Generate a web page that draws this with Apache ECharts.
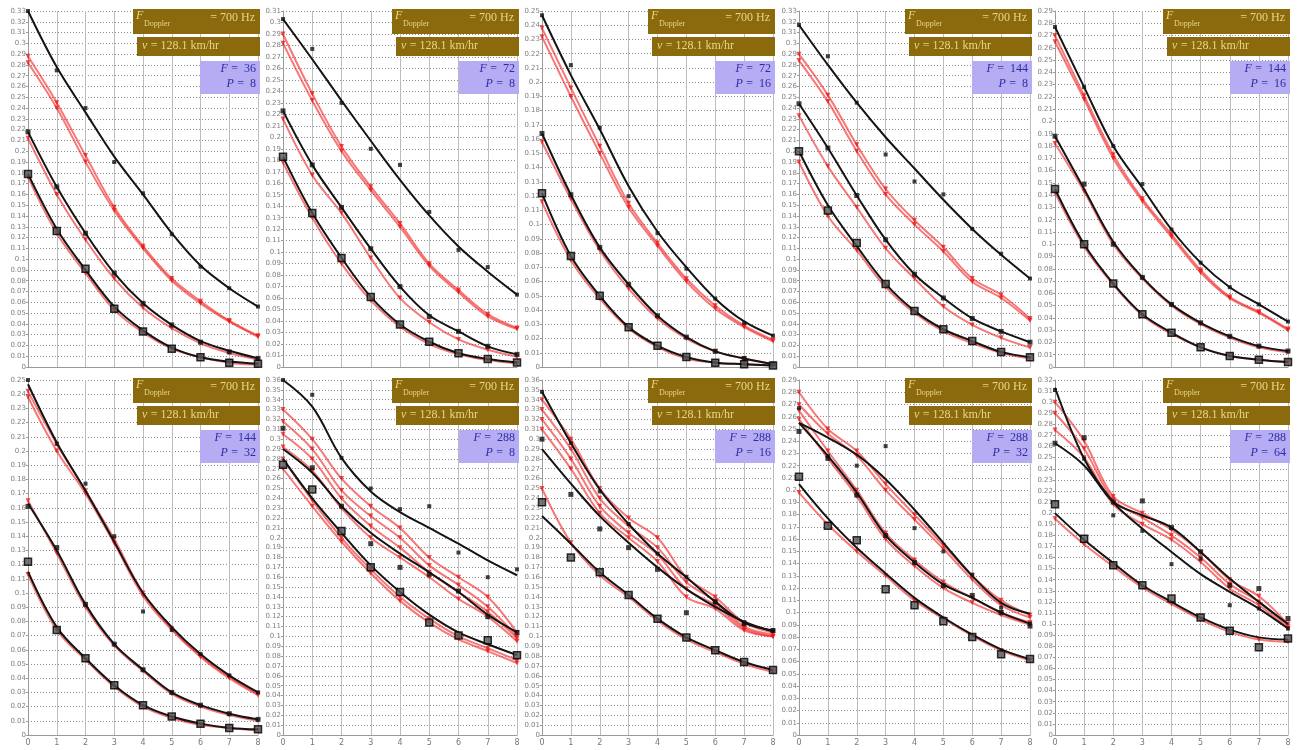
<!DOCTYPE html>
<html><head><meta charset="utf-8">
<script src="https://cdn.jsdelivr.net/npm/echarts@6/dist/echarts.min.js"></script>
<style>html,body{margin:0;padding:0;background:#fff}#c{width:1303px;height:750px}</style>
</head><body><div id="c"></div><script>
const xTicks = [0,1,2,3,4,5,6,7,8];
const fValues = [36,72,72,144,144,144,288,288,288,288];
const pValues = [8,8,16,8,16,32,8,16,32,64];
const yMaxes = [0.33,0.31,0.25,0.33,0.29,0.25,0.36,0.36,0.29,0.32];
const dopplerLabel = '= 700 Hz';
const speedLabel = '= 128.1 km/hr';

const fit1 = [[0.33,0.278,0.236,0.195,0.16,0.124,0.094,0.073,0.056],[0.218,0.167,0.124,0.087,0.059,0.039,0.024,0.015,0.008],[0.179,0.128,0.09,0.056,0.034,0.018,0.009,0.005,0.003]];
const pts1 = [[0.33,0.275,0.24,0.19,0.161,0.123,0.093,0.073,0.056],[0.218,0.167,0.124,0.087,0.059,0.039,0.023,0.014,0.008],[0.179,0.126,0.091,0.054,0.033,0.017,0.009,0.004,0.003]];
const red1 = [[0.288,0.245,0.196,0.148,0.112,0.082,0.061,0.043,0.029],[0.282,0.24,0.19,0.145,0.11,0.08,0.059,0.042,0.028],[0.212,0.16,0.118,0.082,0.055,0.036,0.022,0.013,0.007],[0.176,0.124,0.087,0.053,0.032,0.017,0.009,0.004,0.002]];

const fit2 = [[0.303,0.268,0.232,0.197,0.163,0.132,0.105,0.083,0.063],[0.223,0.176,0.139,0.103,0.07,0.045,0.031,0.018,0.011],[0.183,0.134,0.095,0.061,0.037,0.022,0.012,0.007,0.004]];
const pts2 = [[0.303,0.277,0.23,0.19,0.176,0.135,0.102,0.087,0.063],[0.223,0.176,0.139,0.103,0.07,0.044,0.031,0.018,0.011],[0.183,0.134,0.095,0.061,0.037,0.022,0.012,0.007,0.004]];
const red2 = [[0.29,0.238,0.192,0.157,0.125,0.09,0.067,0.046,0.034],[0.282,0.232,0.188,0.154,0.122,0.088,0.065,0.044,0.033],[0.216,0.167,0.134,0.095,0.06,0.039,0.024,0.015,0.009],[0.178,0.13,0.09,0.058,0.035,0.02,0.011,0.006,0.003]];

const fit3 = [[0.247,0.205,0.167,0.127,0.095,0.07,0.048,0.032,0.022],[0.164,0.121,0.084,0.058,0.036,0.021,0.011,0.006,0.002],[0.122,0.078,0.05,0.028,0.015,0.007,0.003,0.002,0.001]];
const pts3 = [[0.247,0.212,0.168,0.12,0.094,0.069,0.048,0.031,0.022],[0.164,0.121,0.084,0.058,0.036,0.021,0.011,0.006,0.002],[0.122,0.078,0.05,0.028,0.015,0.007,0.003,0.002,0.001]];
const red3 = [[0.238,0.196,0.155,0.115,0.087,0.062,0.043,0.029,0.019],[0.232,0.19,0.15,0.112,0.085,0.06,0.041,0.028,0.018],[0.158,0.118,0.082,0.055,0.034,0.02,0.011,0.006,0.002],[0.116,0.075,0.048,0.027,0.014,0.006,0.003,0.002,0.001]];

const fit4 = [[0.317,0.28,0.245,0.213,0.184,0.155,0.128,0.104,0.082],[0.244,0.203,0.159,0.118,0.086,0.064,0.045,0.033,0.023],[0.2,0.15,0.112,0.077,0.052,0.035,0.024,0.014,0.009]];
const pts4 = [[0.317,0.288,0.245,0.197,0.172,0.16,0.128,0.105,0.082],[0.244,0.203,0.159,0.118,0.086,0.064,0.045,0.033,0.023],[0.2,0.145,0.115,0.077,0.052,0.035,0.024,0.014,0.009]];
const red4 = [[0.29,0.252,0.206,0.165,0.136,0.111,0.082,0.067,0.045],[0.284,0.246,0.2,0.16,0.132,0.107,0.079,0.064,0.043],[0.233,0.186,0.148,0.11,0.082,0.056,0.039,0.027,0.018],[0.19,0.14,0.108,0.074,0.05,0.033,0.022,0.013,0.008]];

const fit5 = [[0.277,0.228,0.18,0.146,0.112,0.085,0.065,0.051,0.037],[0.188,0.145,0.102,0.073,0.051,0.036,0.025,0.017,0.013],[0.145,0.1,0.068,0.043,0.028,0.016,0.009,0.006,0.004]];
const pts5 = [[0.277,0.228,0.18,0.149,0.112,0.085,0.065,0.051,0.037],[0.188,0.149,0.1,0.073,0.051,0.036,0.025,0.017,0.013],[0.145,0.1,0.068,0.043,0.028,0.016,0.009,0.006,0.004]];
const red5 = [[0.27,0.221,0.173,0.137,0.108,0.079,0.057,0.045,0.031],[0.265,0.218,0.17,0.135,0.106,0.077,0.056,0.044,0.03],[0.182,0.143,0.1,0.072,0.05,0.035,0.024,0.016,0.012],[0.142,0.098,0.067,0.042,0.027,0.016,0.009,0.006,0.004]];

const fit6 = [[0.247,0.206,0.172,0.136,0.1,0.076,0.057,0.042,0.03],[0.163,0.13,0.092,0.064,0.046,0.03,0.021,0.015,0.011],[0.115,0.076,0.054,0.035,0.021,0.013,0.008,0.005,0.004]];
const pts6 = [[0.25,0.205,0.177,0.14,0.087,0.074,0.057,0.042,0.03],[0.161,0.132,0.092,0.064,0.046,0.03,0.021,0.015,0.011],[0.122,0.074,0.054,0.035,0.021,0.013,0.008,0.005,0.004]];
const red6 = [[0.242,0.205,0.172,0.138,0.1,0.075,0.056,0.041,0.029],[0.238,0.2,0.17,0.135,0.098,0.074,0.055,0.04,0.028],[0.165,0.128,0.09,0.063,0.045,0.029,0.02,0.014,0.01],[0.113,0.074,0.053,0.034,0.02,0.012,0.007,0.005,0.003]];

const fit7 = [[0.36,0.333,0.281,0.247,0.226,0.21,0.194,0.177,0.162],[0.29,0.266,0.232,0.205,0.184,0.165,0.145,0.122,0.104],[0.28,0.24,0.205,0.172,0.145,0.122,0.104,0.092,0.081]];
const pts7 = [[0.36,0.345,0.281,0.25,0.229,0.232,0.185,0.16,0.168],[0.311,0.271,0.232,0.194,0.17,0.163,0.146,0.12,0.104],[0.274,0.249,0.207,0.17,0.145,0.114,0.101,0.096,0.081]];
const red7 = [[0.33,0.3,0.26,0.232,0.21,0.18,0.16,0.14,0.104],[0.318,0.29,0.248,0.222,0.2,0.172,0.152,0.13,0.1],[0.305,0.28,0.24,0.212,0.19,0.165,0.145,0.125,0.098],[0.292,0.268,0.23,0.2,0.18,0.16,0.138,0.12,0.095],[0.28,0.238,0.2,0.168,0.14,0.118,0.1,0.088,0.076],[0.27,0.232,0.196,0.164,0.136,0.114,0.097,0.085,0.073]];

const fit8 = [[0.348,0.296,0.249,0.214,0.184,0.16,0.135,0.114,0.106],[0.29,0.255,0.222,0.195,0.17,0.148,0.13,0.115,0.105],[0.222,0.194,0.165,0.142,0.118,0.099,0.086,0.074,0.066]];
const pts8 = [[0.348,0.296,0.247,0.214,0.184,0.16,0.135,0.114,0.106],[0.3,0.244,0.209,0.19,0.168,0.124,0.135,0.113,0.106],[0.236,0.18,0.165,0.142,0.118,0.099,0.086,0.074,0.066]];
const red8 = [[0.34,0.3,0.25,0.22,0.2,0.16,0.14,0.114,0.104],[0.33,0.29,0.24,0.212,0.19,0.155,0.136,0.11,0.102],[0.32,0.28,0.232,0.205,0.183,0.148,0.132,0.108,0.1],[0.31,0.27,0.225,0.2,0.176,0.14,0.128,0.106,0.1],[0.25,0.195,0.162,0.14,0.116,0.097,0.084,0.072,0.064]];

const fit9 = [[0.255,0.243,0.229,0.209,0.184,0.157,0.13,0.108,0.099],[0.255,0.228,0.198,0.163,0.141,0.123,0.112,0.1,0.091],[0.205,0.177,0.153,0.132,0.112,0.096,0.082,0.07,0.062]];
const pts9 = [[0.267,0.228,0.22,0.236,0.169,0.15,0.131,0.104,0.091],[0.248,0.226,0.196,0.163,0.141,0.122,0.114,0.1,0.089],[0.211,0.171,0.159,0.119,0.106,0.093,0.08,0.066,0.062]];
const red9 = [[0.28,0.25,0.232,0.205,0.18,0.155,0.13,0.11,0.098],[0.27,0.246,0.228,0.2,0.176,0.152,0.127,0.106,0.096],[0.265,0.232,0.2,0.165,0.143,0.125,0.112,0.1,0.092],[0.258,0.226,0.195,0.16,0.138,0.12,0.108,0.098,0.09],[0.198,0.172,0.15,0.13,0.11,0.095,0.081,0.069,0.061]];

const fit10 = [[0.313,0.249,0.21,0.186,0.165,0.145,0.129,0.114,0.096],[0.263,0.243,0.21,0.198,0.187,0.165,0.141,0.12,0.1],[0.2,0.176,0.155,0.135,0.12,0.106,0.095,0.088,0.086]];
const pts10 = [[0.311,0.249,0.198,0.184,0.154,0.159,0.117,0.114,0.096],[0.263,0.268,0.21,0.211,0.187,0.165,0.135,0.132,0.105],[0.208,0.177,0.153,0.135,0.123,0.106,0.094,0.079,0.087]];
const red10 = [[0.3,0.265,0.215,0.2,0.185,0.165,0.14,0.125,0.1],[0.29,0.258,0.212,0.196,0.18,0.16,0.136,0.12,0.098],[0.275,0.25,0.208,0.19,0.176,0.156,0.132,0.117,0.096],[0.195,0.172,0.152,0.133,0.118,0.104,0.093,0.086,0.084]];

const fits = [fit1,fit2,fit3,fit4,fit5,fit6,fit7,fit8,fit9,fit10];
const ptsAll = [pts1,pts2,pts3,pts4,pts5,pts6,pts7,pts8,pts9,pts10];
const reds = [red1,red2,red3,red4,red5,red6,red7,red8,red9,red10];

const lefts = [28,283,542,799,1055], rights = [258,517,773,1030,1288];
const tops = [11,380], bottoms = [367,735];
const serif = "'Liberation Serif','DejaVu Serif',serif";

const grids=[], xAxes=[], yAxes=[], series=[], graphics=[];
const toXY = arr => xTicks.map((x,j)=>[x, arr[j]]);
for (let i=0;i<10;i++){
  const row = Math.floor(i/5), col = i%5;
  const L = lefts[col], R = rights[col], T = tops[row], B = bottoms[row];
  grids.push({left:L, top:T, width:R-L, height:B-T});
  xAxes.push({gridIndex:i, type:'value', min:0, max:8, interval:1,
    axisLine:{show:true, onZero:false, lineStyle:{color:'#999'}}, axisTick:{show:false},
    axisLabel:{show:row===1, fontSize:8, color:'#777', margin:4, fontFamily:'DejaVu Sans'},
    splitLine:{show:true, lineStyle:{color:'#bdbdbd', width:1}}});
  yAxes.push({gridIndex:i, type:'value', min:0, max:yMaxes[i], interval:0.01,
    axisLine:{show:true, lineStyle:{color:'#999'}}, axisTick:{show:true, length:2, lineStyle:{color:'#999'}},
    axisLabel:{fontSize:7, color:'#808080', margin:2, fontFamily:'DejaVu Sans', formatter:v=>String(parseFloat(v.toFixed(2)))},
    splitLine:{show:true, lineStyle:{color:'#8a8a8a', type:[1,2], width:1}}});
  reds[i].forEach(r=>{
    series.push({type:'line', xAxisIndex:i, yAxisIndex:i, data:toXY(r), smooth:0.35, silent:true,
      symbol:'triangle', symbolRotate:180, symbolSize:5, showSymbol:true,
      itemStyle:{color:'rgba(235,20,20,0.75)'}, lineStyle:{color:'#f01e1e', width:2, opacity:0.6}, z:2});
  });
  fits[i].forEach(f=>{
    series.push({type:'line', xAxisIndex:i, yAxisIndex:i, data:toXY(f), smooth:0.35, silent:true,
      showSymbol:false, lineStyle:{color:'#141414', width:2}, z:3});
  });
  ptsAll[i].forEach((p,g)=>{
    series.push({type:'scatter', xAxisIndex:i, yAxisIndex:i, data:toXY(p), silent:true,
      symbol:'rect', symbolSize: g===2 ? 7 : (g===1 ? 5 : 4),
      itemStyle: g===2 ? {color:'#555', borderColor:'#000', borderWidth:1.5} : {color:'#111'}, z:4});
  });
  graphics.push({type:'rect', left:R-125, top:T-2, shape:{width:127, height:25}, style:{fill:'#8a6a0c'}, z:100});
  graphics.push({type:'text', left:R-122, top:T-1, style:{text:'F', font:'italic 12px '+serif, fill:'#e9d68c'}, z:101});
  graphics.push({type:'text', left:R-114, top:T+9, style:{text:'Doppler', font:'8px '+serif, fill:'#e9d68c'}, z:101});
  graphics.push({type:'text', right:1303-R+3, top:T+1, style:{text:dopplerLabel, font:'12px '+serif, fill:'#e9d68c', textAlign:'right'}, z:101});
  graphics.push({type:'rect', left:R-121, top:T+26, shape:{width:123, height:19}, style:{fill:'#8a6a0c'}, z:100});
  graphics.push({type:'text', left:R-116, top:T+29, style:{rich:{i:{font:'italic 12px '+serif, fill:'#e9d68c'}, n:{font:'12px '+serif, fill:'#e9d68c'}}, text:'{i|v} {n|'+speedLabel+'}'}, z:101});
  graphics.push({type:'rect', left:R-58, top:T+50, shape:{width:60, height:33}, style:{fill:'#b6acf4'}, z:100});
  graphics.push({type:'text', right:1303-R+2, top:T+52, style:{rich:{i:{font:'italic 12px '+serif, fill:'#2c2ca0'}, n:{font:'12px '+serif, fill:'#2c2ca0'}}, text:'{i|F} {n|=  '+fValues[i]+'}', textAlign:'right'}, z:101});
  graphics.push({type:'text', right:1303-R+2, top:T+67, style:{rich:{i:{font:'italic 12px '+serif, fill:'#2c2ca0'}, n:{font:'12px '+serif, fill:'#2c2ca0'}}, text:'{i|P} {n|=  '+pValues[i]+'}', textAlign:'right'}, z:101});
}
const chart = echarts.init(document.getElementById('c'), null, {renderer:'canvas'});
chart.setOption({animation:false, backgroundColor:'#fff', grid:grids, xAxis:xAxes, yAxis:yAxes, series:series, graphic:graphics});
</script></body></html>
